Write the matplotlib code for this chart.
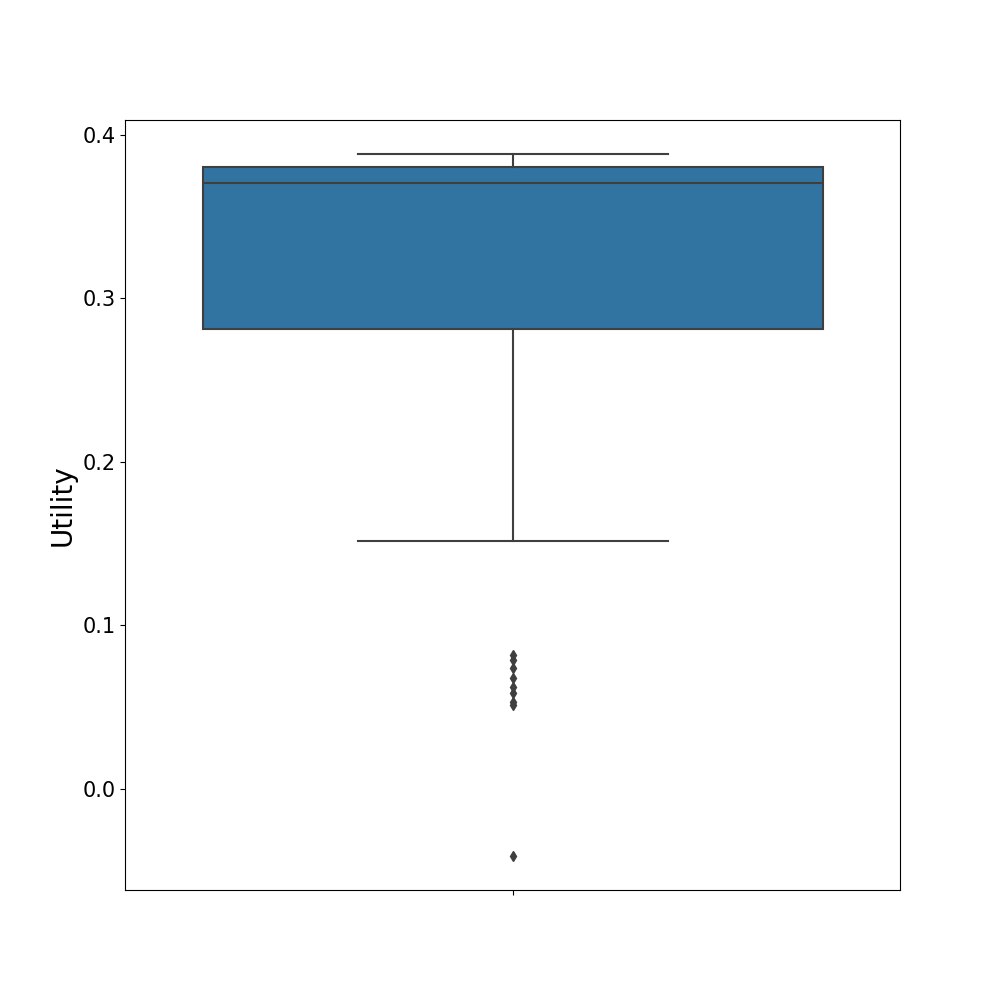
import matplotlib
matplotlib.use("Agg")
import matplotlib.pyplot as plt

# box statistics
q1 = 0.281
median = 0.3706
q3 = 0.3804
whisker_low = 0.1515
whisker_high = 0.3883
outliers = [0.0816, 0.0785, 0.0736, 0.0675, 0.0625, 0.0585, 0.0530, 0.0515, -0.0411]

stats = [{"med": median, "q1": q1, "q3": q3,
          "whislo": whisker_low, "whishi": whisker_high,
          "fliers": outliers}]

line_col = "#3f3f3f"
fig, ax = plt.subplots(figsize=(10, 10), dpi=100)
ax.bxp(stats, positions=[0], widths=0.8, patch_artist=True,
       boxprops=dict(facecolor="#3274a1", edgecolor=line_col, linewidth=1.5),
       medianprops=dict(color=line_col, linewidth=1.5),
       whiskerprops=dict(color=line_col, linewidth=1.5),
       capprops=dict(color=line_col, linewidth=1.5),
       capwidths=0.4,
       flierprops=dict(marker="d", markerfacecolor=line_col, markeredgecolor=line_col,
                       markersize=5))
ax.set_xlim(-0.5, 0.5)
ax.set_ylim(-0.062, 0.4092)
ax.set_xticks([0])
ax.set_xticklabels([""])
ax.set_yticks([0.0, 0.1, 0.2, 0.3, 0.4])
ax.tick_params(axis="y", labelsize=15)
ax.set_ylabel("Utility", fontsize=20)
fig.savefig("out.png")
